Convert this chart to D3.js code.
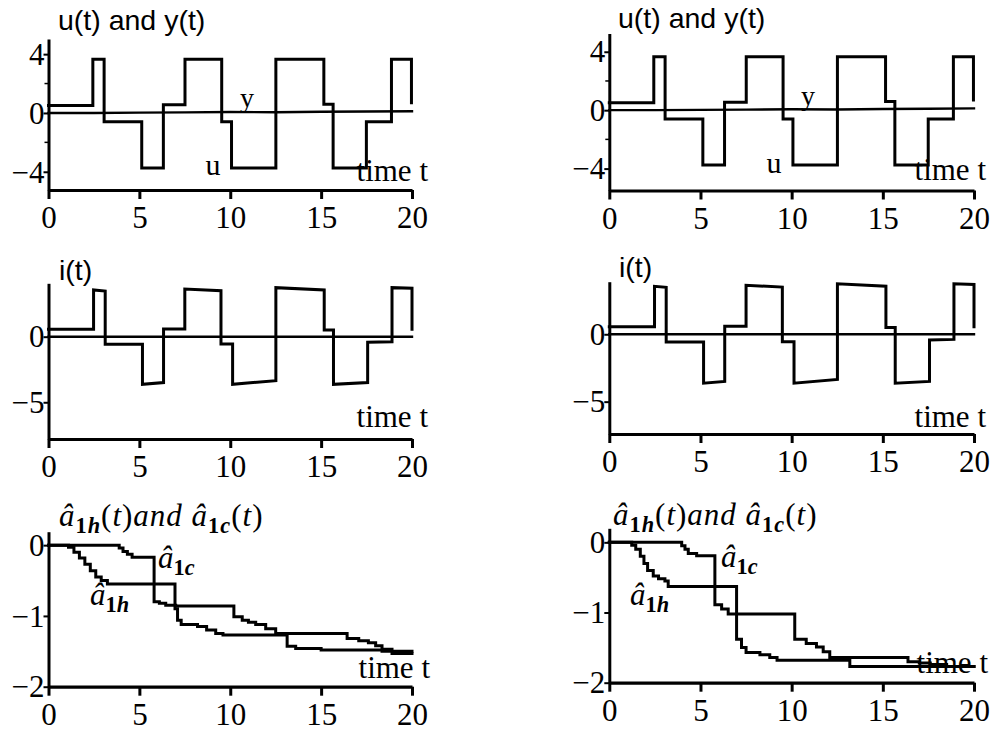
<!DOCTYPE html>
<html><head><meta charset="utf-8">
<script src="https://cdn.jsdelivr.net/npm/d3@7/dist/d3.min.js"></script>
<style>body{margin:0;background:#fff}svg{display:block}</style>
</head><body>
<svg id="c" width="995" height="731"></svg>
<script>
// ---------- data ----------
const xTicks = [0, 5, 10, 15, 20];
const yTicksTop = [4, 0, -4];
const yMinorTop = [2, -2];
const yTicksMid = [0, -5];
const yTicksBot = [0, -1, -2];

// u(t): piecewise constant input (step-after)
const uTimes  = [0, 2.44, 3.06, 5.13, 6.32, 7.51, 9.53, 10.07, 12.51, 15.15, 15.66, 17.49, 18.87, 19.97];
const uValues = [0.5, 3.65, -0.6, -3.75, 0.55, 3.65, -0.6, -3.75, 3.65, 0.6, -3.75, -0.6, 3.65, 0.7];
// y(t): output, close to zero
const yTimes  = [0, 2.5, 5, 7.5, 10, 12.5, 15, 17.5, 20];
const yValues = [0.0, 0.0, 0.02, 0.04, 0.06, 0.05, 0.08, 0.1, 0.12];

// i(t): vertices of the current trace
const iTimes  = [0, 2.48, 2.48, 3.12, 3.12, 5.17, 5.17, 6.33, 6.33, 7.5, 7.5, 9.49, 9.49, 10.13, 10.13, 12.51, 12.51, 15.17, 15.17, 15.68, 15.68, 17.56, 17.56, 18.9, 18.9, 20, 20];
const iValues = [0.56, 0.56, 3.56, 3.48, -0.58, -0.58, -3.63, -3.5, 0.59, 0.59, 3.63, 3.5, -0.55, -0.55, -3.63, -3.35, 3.74, 3.56, 0.51, 0.51, -3.63, -3.5, -0.43, -0.38, 3.74, 3.69, 0.56];
const iRefTimes = [0, 20];
const iRefValues = [0, 0];

// estimates, left case (step-after)
const a1hLeftTimes  = [0, 1.1, 1.4, 1.7, 2.0, 2.3, 2.6, 2.9, 3.24, 6.96, 7.1, 7.3, 8.2, 8.7, 9.2, 9.6, 13.13, 13.6, 15.0, 18.35, 20];
const a1hLeftValues = [0, -0.03, -0.1, -0.18, -0.27, -0.36, -0.45, -0.5, -0.55, -0.9, -1.06, -1.12, -1.15, -1.2, -1.25, -1.27, -1.43, -1.46, -1.48, -1.5, -1.5];
const a1cLeftTimes  = [0, 3.89, 4.1, 4.34, 4.6, 5.81, 6.1, 6.45, 7.0, 10.2, 10.66, 11.0, 11.4, 11.95, 12.5, 16.43, 17.07, 17.6, 18.0, 18.35, 18.9, 20];
const a1cLeftValues = [0, -0.04, -0.09, -0.13, -0.17, -0.8, -0.82, -0.85, -0.86, -1.01, -1.06, -1.09, -1.12, -1.18, -1.25, -1.32, -1.35, -1.38, -1.42, -1.47, -1.53, -1.53];

// estimates, right case (step-after)
const a1hRightTimes  = [0, 1.23, 1.45, 1.7, 1.9, 2.1, 2.41, 2.7, 3.05, 3.23, 6.98, 7.25, 7.5, 8.26, 8.8, 9.2, 13.19, 20];
const a1hRightValues = [0, -0.04, -0.1, -0.2, -0.3, -0.4, -0.48, -0.52, -0.55, -0.63, -1.38, -1.5, -1.57, -1.6, -1.64, -1.68, -1.77, -1.77];
const a1cRightTimes  = [0, 3.97, 4.15, 4.33, 4.79, 5.79, 6.16, 6.52, 10.17, 10.8, 11.36, 11.73, 12.09, 16.38, 17.0, 17.6, 18.5, 20];
const a1cRightValues = [0, -0.05, -0.1, -0.16, -0.19, -0.89, -0.95, -1.02, -1.38, -1.44, -1.49, -1.56, -1.64, -1.7, -1.72, -1.74, -1.77, -1.77];

// ---------- layout ----------
const SERIF = "'Liberation Serif', 'Times New Roman', serif";
const SANS = "'Liberation Sans', Arial, sans-serif";
const svg = d3.select("#c");

function zip(t, v) { return t.map((d, k) => [d, v[k]]); }

function panel(cfg) {
  const x = d3.scaleLinear().domain([0, 20]).range([cfg.x0, cfg.x1]);
  const y = d3.scaleLinear().domain(cfg.dom).range([cfg.yb, cfg.yt]);
  const g = svg.append("g");
  const yBase = y(cfg.dom[0]);

  // x axis
  const xa = g.append("g").attr("transform", `translate(0,${yBase})`)
    .call(d3.axisBottom(x).tickValues(xTicks).tickSize(9).tickSizeOuter(0).tickPadding(7).tickFormat(d3.format("d")));
  xa.select(".domain").attr("stroke", "#000").attr("stroke-width", 3.2);
  xa.selectAll(".tick line").attr("stroke", "#000").attr("stroke-width", 3);
  xa.selectAll(".tick text").attr("font-family", SERIF).attr("font-size", 31).attr("fill", "#000");

  // y axis
  const ya = g.append("g").attr("transform", `translate(${cfg.x0},0)`)
    .call(d3.axisLeft(y).tickValues(cfg.yTicks).tickSize(5).tickSizeOuter(0).tickPadding(-1)
      .tickFormat(d => d < 0 ? "\u2212" + Math.abs(d) : String(d)));
  ya.select(".domain").attr("stroke", "#000").attr("stroke-width", 3);
  ya.selectAll(".tick line").attr("stroke", "#000").attr("stroke-width", 2);
  ya.selectAll(".tick text").attr("font-family", SERIF).attr("font-size", 31).attr("fill", "#000").attr("dy", "0.33em");
  if (cfg.minor) {
    g.selectAll(null).data(cfg.minor).enter().append("line")
      .attr("x1", cfg.x0 - 4).attr("x2", cfg.x0).attr("y1", d => y(d)).attr("y2", d => y(d))
      .attr("stroke", "#000").attr("stroke-width", 1.5);
  }

  // series
  cfg.series.forEach(s => {
    const line = d3.line().x(d => x(d[0])).y(d => y(d[1])).curve(s.step ? d3.curveStepAfter : d3.curveLinear);
    g.append("path").datum(zip(s.t, s.v)).attr("d", line)
      .attr("fill", "none").attr("stroke", "#000").attr("stroke-width", s.w || 3)
      .attr("stroke-linejoin", "miter").attr("stroke-linecap", "square");
  });
  return g;
}

const cols = [
  { x0: 48.5, x1: 412 },
  { x0: 609.3, x1: 974 }
];

// top panels
[{ yb: 190, yt: 39, dom: [-5.24, 5.03] }, { yb: 190.5, yt: 33.5, dom: [-5.5, 5.25] }].forEach((r, c) => {
  panel({ ...cols[c], ...r, yTicks: yTicksTop, minor: yMinorTop,
    series: [{ t: yTimes, v: yValues, step: false, w: 2.4 }, { t: uTimes, v: uValues, step: true }] });
});
// middle panels
[{ yb: 439, yt: 283.3, dom: [-7.8, 4.07] }, { yb: 434, yt: 281.7, dom: [-7.4, 3.9] }].forEach((r, c) => {
  panel({ ...cols[c], ...r, yTicks: yTicksMid,
    series: [{ t: iRefTimes, v: iRefValues, step: false, w: 2.4 }, { t: iTimes, v: iValues, step: false }] });
});
// bottom panels
panel({ ...cols[0], yb: 686.7, yt: 531.7, dom: [-2, 0.19], yTicks: yTicksBot,
  series: [{ t: a1hLeftTimes, v: a1hLeftValues, step: true }, { t: a1cLeftTimes, v: a1cLeftValues, step: true }] });
panel({ ...cols[1], yb: 682.7, yt: 528.3, dom: [-2, 0.2], yTicks: yTicksBot,
  series: [{ t: a1hRightTimes, v: a1hRightValues, step: true }, { t: a1cRightTimes, v: a1cRightValues, step: true }] });

// ---------- text labels ----------
function txt(x, y, s, font, size, anchor) {
  return svg.append("text").attr("x", x).attr("y", y).text(s)
    .attr("font-family", font).attr("font-size", size).attr("text-anchor", anchor || "start").attr("fill", "#000");
}
// top
txt(58, 30, "u(t) and y(t)", SANS, 28.5);
txt(618, 28, "u(t) and y(t)", SANS, 28.5);
txt(247, 107, "y", SERIF, 28, "middle");
txt(808, 105, "y", SERIF, 28, "middle");
txt(213, 175, "u", SERIF, 30, "middle");
txt(774, 173, "u", SERIF, 30, "middle");
txt(428, 181, "time t", SERIF, 31, "end");
txt(986, 180, "time t", SERIF, 31, "end");
// middle
txt(59, 280, "i(t)", SANS, 28.5);
txt(619, 277, "i(t)", SANS, 28.5);
txt(428, 427, "time t", SERIF, 31, "end");
txt(986, 427, "time t", SERIF, 31, "end");
// bottom
txt(430, 678, "time t", SERIF, 31, "end");
txt(988, 673, "time t", SERIF, 31, "end");

function ahat(x, y, sub, size) {
  const t = svg.append("text").attr("x", x).attr("y", y).attr("font-family", SERIF).attr("font-size", size).attr("fill", "#000");
  t.append("tspan").attr("font-style", "italic").text("\u00e2");
  t.append("tspan").attr("font-size", size * 0.72).attr("dy", size * 0.22).attr("font-weight", "bold").text("1");
  t.append("tspan").attr("font-size", size * 0.72).attr("font-style", "italic").attr("font-weight", "bold").text(sub);
  return t;
}
ahat(158, 568, "c", 31);
ahat(90, 605, "h", 31);
ahat(721, 567, "c", 31);
ahat(630, 605, "h", 31);

function title(x, y, size) {
  const t = svg.append("text").attr("x", x).attr("y", y).attr("font-family", SERIF).attr("font-size", size)
    .attr("letter-spacing", 1).attr("fill", "#000");
  const sub = size * 0.72, sh = size * 0.22;
  t.append("tspan").attr("font-style", "italic").text("\u00e2");
  t.append("tspan").attr("font-size", sub).attr("dy", sh).attr("font-weight", "bold").text("1");
  t.append("tspan").attr("font-size", sub).attr("font-style", "italic").attr("font-weight", "bold").text("h");
  t.append("tspan").attr("dy", -sh).text("(");
  t.append("tspan").attr("font-style", "italic").text("t");
  t.append("tspan").text(")");
  t.append("tspan").attr("font-style", "italic").text("and \u00e2");
  t.append("tspan").attr("font-size", sub).attr("dy", sh).attr("font-weight", "bold").text("1");
  t.append("tspan").attr("font-size", sub).attr("font-style", "italic").attr("font-weight", "bold").text("c");
  t.append("tspan").attr("dy", -sh).text("(");
  t.append("tspan").attr("font-style", "italic").text("t");
  t.append("tspan").text(")");
  return t;
}
title(59, 526, 31);
title(613, 525, 31);
</script>
</body></html>
